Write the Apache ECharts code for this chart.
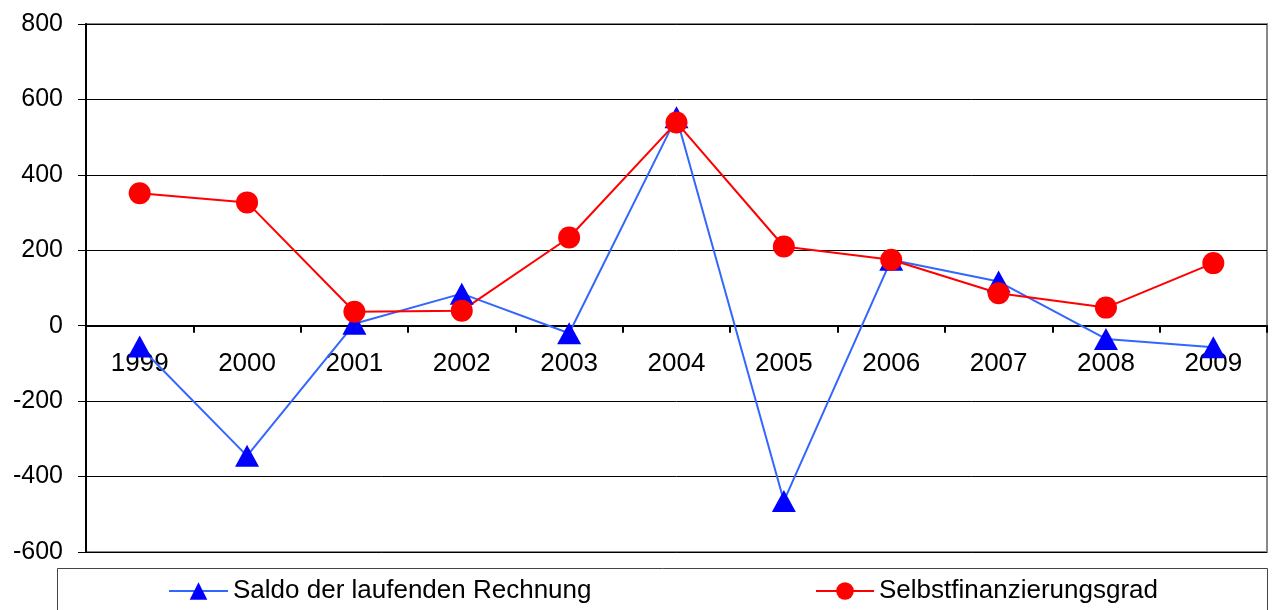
<!DOCTYPE html>
<html><head><meta charset="utf-8">
<script src="https://cdn.jsdelivr.net/npm/echarts@6/dist/echarts.min.js"></script>
<style>html,body{margin:0;padding:0;background:#fff}#c{width:1272px;height:610px}</style>
</head><body><div id="c"></div>
<script>
const years = ['1999','2000','2001','2002','2003','2004','2005','2006','2007','2008','2009'];
const saldo = [-55, -345, 5, 85, -20, 553, -465, 175, 117, -35, -57];
const selbst = [351, 327, 37, 40, 234, 539, 210, 175, 86, 48, 166];
const yTicks = { min: -600, max: 800, interval: 200 };
const names = ['Saldo der laufenden Rechnung', 'Selbstfinanzierungsgrad'];

const gridTop = 24, gridBottom = 58, H = 610;
const plotH = H - gridTop - gridBottom;
const zeroOffset = -(plotH * (0 - yTicks.min) / (yTicks.max - yTicks.min));

const chart = echarts.init(document.getElementById('c'));
const font = 'Liberation Sans, Arial, sans-serif';
chart.setOption({
  animation: false,
  backgroundColor: '#fff',
  grid: { left: 86, right: 5, top: gridTop, bottom: gridBottom, show: true, borderColor: '#888', borderWidth: 2, containLabel: false },
  graphic: [{ type: 'rect', shape: { x: 57.5, y: 568.5, width: 1210, height: 50 }, style: { fill: 'none', stroke: '#444', lineWidth: 1 } }],
  legend: [
    { data: [names[0]], left: 168, top: 578, padding: 0, itemWidth: 59, itemHeight: 22, itemGap: 6,
      textStyle: { fontFamily: font, fontSize: 26, color: '#000' } },
    { data: [names[1]], left: 815, top: 578, padding: 0, itemWidth: 58, itemHeight: 22, itemGap: 6,
      textStyle: { fontFamily: font, fontSize: 26, color: '#000' } }
  ],
  xAxis: {
    type: 'category', data: years, boundaryGap: true, position: 'bottom', offset: zeroOffset,
    axisLine: { onZero: false, lineStyle: { color: '#000', width: 2 } },
    axisTick: { show: true, length: 7, inside: false, lineStyle: { color: '#000', width: 2 } },
    axisLabel: { fontFamily: font, fontSize: 26, color: '#000', margin: 25 },
    splitLine: { show: false }
  },
  yAxis: {
    type: 'value', min: yTicks.min, max: yTicks.max, interval: yTicks.interval,
    axisLine: { show: true, lineStyle: { color: '#000', width: 2 } },
    axisTick: { show: true, length: 8, lineStyle: { color: '#000', width: 1 } },
    axisLabel: { fontFamily: font, fontSize: 25, color: '#000', margin: 23 },
    splitLine: { show: true, lineStyle: { color: '#000', width: 1 } }
  },
  series: [
    { name: names[0], type: 'line', data: saldo, symbol: 'triangle', symbolSize: [24, 22],
      lineStyle: { color: '#3366ff', width: 2 }, itemStyle: { color: '#0000ff' } },
    { name: names[1], type: 'line', data: selbst, symbol: 'circle', symbolSize: 22,
      lineStyle: { color: '#ff0000', width: 2 }, itemStyle: { color: '#ff0000' } }
  ]
});
</script></body></html>
